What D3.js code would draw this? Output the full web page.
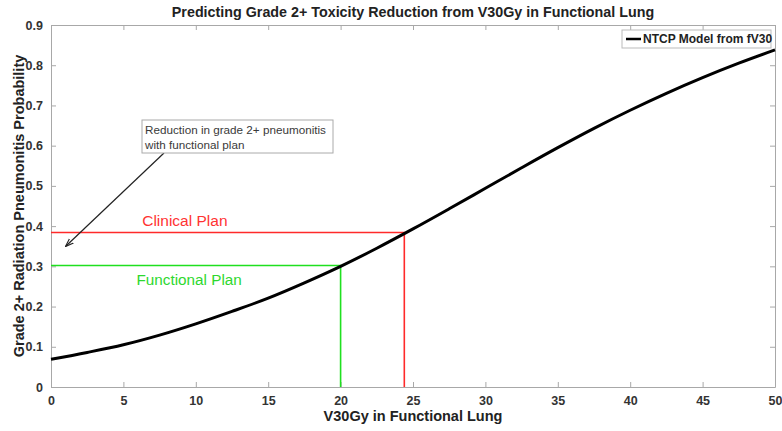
<!DOCTYPE html>
<html>
<head>
<meta charset="utf-8">
<script src="https://cdn.jsdelivr.net/npm/d3@7"></script>
<style>
  body { margin: 0; background: #fff; }
  svg text { font-family: "Liberation Sans", Arial, sans-serif; }
</style>
</head>
<body>
<div class="chart"></div>
<script>

// data
var v30Values = [0, 2.5, 5, 7.5, 10, 12.5, 15, 17.5, 20, 22.5, 25, 27.5, 30, 32.5, 35, 37.5, 40, 42.5, 45, 47.5, 50];
var ntcpValues = [0.069, 0.086, 0.105, 0.129, 0.157, 0.188, 0.221, 0.259, 0.300, 0.345, 0.393, 0.443, 0.494, 0.545, 0.595, 0.643, 0.688, 0.730, 0.769, 0.805, 0.838];
var xTicks = [0, 5, 10, 15, 20, 25, 30, 35, 40, 45, 50];
var yTicks = [0, 0.1, 0.2, 0.3, 0.4, 0.5, 0.6, 0.7, 0.8, 0.9];

var clinicalPlan = { v30: 24.4, ntcp: 0.384 };
var functionalPlan = { v30: 20.0, ntcp: 0.302 };

// size
var svgWidth = 782,
    svgHeight = 431;
var margin = { top: 25, right: 7, bottom: 44, left: 51 };
var plotWidth = svgWidth - margin.left - margin.right,
    plotHeight = svgHeight - margin.top - margin.bottom;

var svg = d3.select(".chart")
            .append("svg")
            .attr("width", svgWidth)
            .attr("height", svgHeight);

var g = svg.append("g")
           .attr("transform", "translate(" + margin.left + "," + margin.top + ")");

// scales
var xScale = d3.scaleLinear().domain([0, 50]).range([0, plotWidth]);
var yScale = d3.scaleLinear().domain([0, 0.9]).range([plotHeight, 0]);

var frameColor = "#a8a8a8";
var labelColor = "#333";

// axes with inward ticks on all four sides
function styleAxis(sel, showLabels) {
    sel.select(".domain").attr("stroke", frameColor);
    sel.selectAll(".tick line").attr("stroke", frameColor);
    sel.selectAll(".tick text")
       .attr("fill", labelColor)
       .attr("font-size", 12.5)
       .attr("font-weight", "bold")
       .style("display", showLabels ? null : "none");
}

g.append("g")
 .attr("transform", "translate(0," + plotHeight + ")")
 .call(d3.axisBottom(xScale).tickValues(xTicks).tickSizeInner(-5).tickSizeOuter(0).tickPadding(9).tickFormat(d3.format("d")))
 .call(styleAxis, true);

g.append("g")
 .call(d3.axisTop(xScale).tickValues(xTicks).tickSizeInner(-5).tickSizeOuter(0))
 .call(styleAxis, false);

g.append("g")
 .call(d3.axisLeft(yScale).tickValues(yTicks).tickSizeInner(-5).tickSizeOuter(0).tickPadding(8).tickFormat(function(d) { return d === 0 ? "0" : d3.format(".1f")(d); }))
 .call(styleAxis, true);

g.append("g")
 .attr("transform", "translate(" + plotWidth + ",0)")
 .call(d3.axisRight(yScale).tickValues(yTicks).tickSizeInner(-5).tickSizeOuter(0))
 .call(styleAxis, false);

// plan reference lines
function planLines(plan, color) {
    var path = d3.path();
    path.moveTo(xScale(0), yScale(plan.ntcp));
    path.lineTo(xScale(plan.v30), yScale(plan.ntcp));
    path.lineTo(xScale(plan.v30), yScale(0));
    g.append("path")
     .attr("d", path.toString())
     .attr("fill", "none")
     .attr("stroke", color)
     .attr("stroke-width", 1.6);
}
planLines(clinicalPlan, "#ff2a2a");
planLines(functionalPlan, "#1fe01f");

g.append("text")
 .attr("x", xScale(6.3))
 .attr("y", yScale(clinicalPlan.ntcp) - 7)
 .attr("fill", "#ff3333")
 .attr("font-size", 15.5)
 .text("Clinical Plan");

g.append("text")
 .attr("x", xScale(5.9))
 .attr("y", yScale(functionalPlan.ntcp) + 19)
 .attr("fill", "#2ed82e")
 .attr("font-size", 15.3)
 .text("Functional Plan");

// NTCP curve
var line = d3.line()
    .x(function(d, i) { return xScale(v30Values[i]); })
    .y(function(d) { return yScale(d); })
    .curve(d3.curveMonotoneX);

g.append("path")
 .datum(ntcpValues)
 .attr("d", line)
 .attr("fill", "none")
 .attr("stroke", "#000")
 .attr("stroke-width", 3);

// annotation box with arrow
svg.append("defs").append("marker")
   .attr("id", "arrow")
   .attr("viewBox", "0 0 10 10")
   .attr("refX", 9).attr("refY", 5)
   .attr("markerWidth", 7).attr("markerHeight", 7)
   .attr("orient", "auto")
   .append("path")
   .attr("d", "M0,1.5 L10,5 L0,8.5")
   .attr("fill", "none")
   .attr("stroke", "#222")
   .attr("stroke-width", 1.3);

svg.append("line")
   .attr("x1", 164).attr("y1", 153)
   .attr("x2", 66).attr("y2", 246)
   .attr("stroke", "#222")
   .attr("stroke-width", 1.2)
   .attr("marker-end", "url(#arrow)");

svg.append("rect")
   .attr("x", 142).attr("y", 120)
   .attr("width", 191).attr("height", 33)
   .attr("fill", "#fff")
   .attr("stroke", "#aaa");

var annot = svg.append("text")
   .attr("fill", "#3a3a3a")
   .attr("font-size", 11.7);
annot.append("tspan").attr("x", 145).attr("y", 134).text("Reduction in grade 2+ pneumonitis");
annot.append("tspan").attr("x", 145).attr("y", 149).text("with functional plan");

// legend
var legend = svg.append("g");
legend.append("rect")
      .attr("x", 622).attr("y", 30)
      .attr("width", 149).attr("height", 18)
      .attr("fill", "#fff")
      .attr("stroke", "#bbb");
legend.append("line")
      .attr("x1", 626).attr("x2", 641)
      .attr("y1", 39).attr("y2", 39)
      .attr("stroke", "#000")
      .attr("stroke-width", 2.5);
legend.append("text")
      .attr("x", 643).attr("y", 43)
      .attr("font-size", 12)
      .attr("font-weight", "bold")
      .attr("fill", "#222")
      .text("NTCP Model from fV30");

// titles
svg.append("text")
   .attr("x", margin.left + plotWidth / 2)
   .attr("y", 17)
   .attr("text-anchor", "middle")
   .attr("font-size", 14.3)
   .attr("font-weight", "bold")
   .attr("fill", "#222")
   .text("Predicting Grade 2+ Toxicity Reduction from V30Gy in Functional Lung");

svg.append("text")
   .attr("x", margin.left + plotWidth / 2)
   .attr("y", 421)
   .attr("text-anchor", "middle")
   .attr("font-size", 14.5)
   .attr("font-weight", "bold")
   .attr("fill", "#222")
   .text("V30Gy in Functional Lung");

svg.append("text")
   .attr("transform", "translate(24," + (margin.top + plotHeight / 2) + ") rotate(-90)")
   .attr("text-anchor", "middle")
   .attr("font-size", 14.5)
   .attr("font-weight", "bold")
   .attr("fill", "#222")
   .text("Grade 2+ Radiation Pneumonitis Probability");

</script>
</body>
</html>
